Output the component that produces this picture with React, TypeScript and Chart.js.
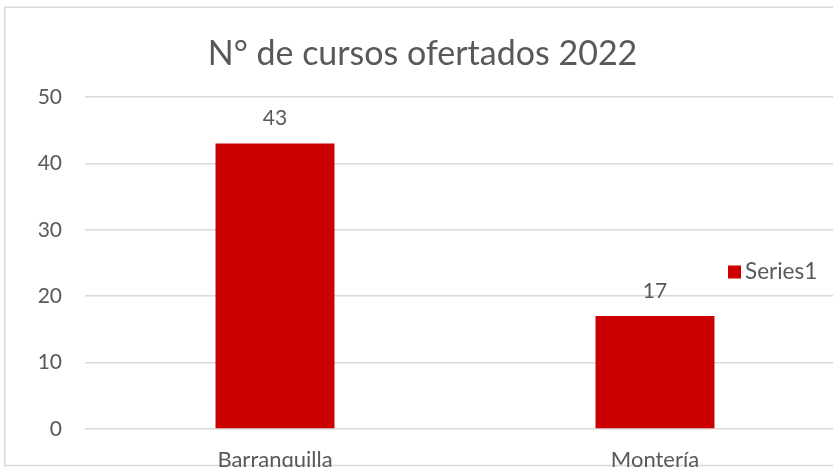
import React, { useEffect, useRef } from "react";
import { Chart, registerables } from "chart.js";

Chart.register(...registerables);

const categories = ["Barranquilla", "Montería"];
const seriesName = "Series1";
const seriesValues = [43, 17];
const chartTitle = "N° de cursos ofertados 2022";
const yMin = 0;
const yMax = 50;
const yStep = 10;

const FONT = "Lato, 'Open Sans', sans-serif";
const TEXT = "#595959";
const GRID = "#d9d9d9";
const BAR = "#CC0000";

const extrasPlugin = {
  id: "extras",
  beforeDraw(chart: any) {
    const ctx = chart.ctx;
    ctx.save();
    ctx.fillStyle = "#ffffff";
    ctx.fillRect(0, 0, chart.width, chart.height);
    ctx.strokeStyle = GRID;
    ctx.lineWidth = 1.5;
    ctx.strokeRect(4.75, 7.25, chart.width + 20, 465.5 - 7.25);
    ctx.restore();
  },
  afterDatasetsDraw(chart: any) {
    const ctx = chart.ctx;
    ctx.save();
    // data labels
    const meta = chart.getDatasetMeta(0);
    ctx.font = `21px ${FONT}`;
    ctx.fillStyle = TEXT;
    ctx.textAlign = "center";
    ctx.textBaseline = "middle";
    meta.data.forEach((el: any, i: number) => {
      const v = chart.data.datasets[0].data[i];
      ctx.fillText(String(v), el.x, el.y - 25);
    });
    // legend
    const lx = 728;
    const ly = 272;
    ctx.fillStyle = BAR;
    ctx.fillRect(lx, ly - 6.5, 13, 13);
    ctx.fillStyle = TEXT;
    ctx.textAlign = "left";
    ctx.font = `22.5px ${FONT}`;
    ctx.fillText(chart.data.datasets[0].label, lx + 17, ly);
    ctx.restore();
  },
};

export default function App() {
  const ref = useRef<HTMLCanvasElement>(null);
  useEffect(() => {
    if (!ref.current) return;
    const chart = new Chart(ref.current, {
      type: "bar",
      data: {
        labels: categories,
        datasets: [
          {
            label: seriesName,
            data: seriesValues,
            backgroundColor: BAR,
            borderWidth: 0,
            categoryPercentage: 1,
            barPercentage: 0.313,
          },
        ],
      },
      options: {
        responsive: false,
        animation: false,
        devicePixelRatio: 1,
        layout: { padding: { left: 0, right: 5, top: 0, bottom: 0 } },
        plugins: {
          legend: { display: false },
          tooltip: { enabled: false },
          title: {
            display: true,
            text: chartTitle,
            color: TEXT,
            font: { family: FONT, size: 34, weight: "normal", lineHeight: 1.2 },
            padding: { top: 34, bottom: 22.2 },
          },
        },
        scales: {
          x: {
            grid: { display: false, drawTicks: false },
            border: { display: false },
            ticks: {
              color: TEXT,
              font: { family: FONT, size: 22 },
              padding: 18,
            },
            afterFit: (s: any) => {
              s.height = 51;
            },
          },
          y: {
            min: yMin,
            max: yMax,
            grid: { color: GRID, lineWidth: 1.5, drawTicks: false },
            border: { display: false },
            ticks: {
              stepSize: yStep,
              color: TEXT,
              font: { family: FONT, size: 21 },
              padding: 23,
            },
            afterFit: (s: any) => {
              s.width = 85;
            },
          },
        },
      },
      plugins: [extrasPlugin],
    });
    return () => chart.destroy();
  }, []);
  return (
    <div
      style={{
        position: "fixed",
        left: 0,
        top: 0,
        width: 833,
        height: 467,
        overflow: "hidden",
        background: "#fff",
      }}
    >
      <canvas ref={ref} width={850} height={480} style={{ width: 850, height: 480, display: "block" }} />
    </div>
  );
}
